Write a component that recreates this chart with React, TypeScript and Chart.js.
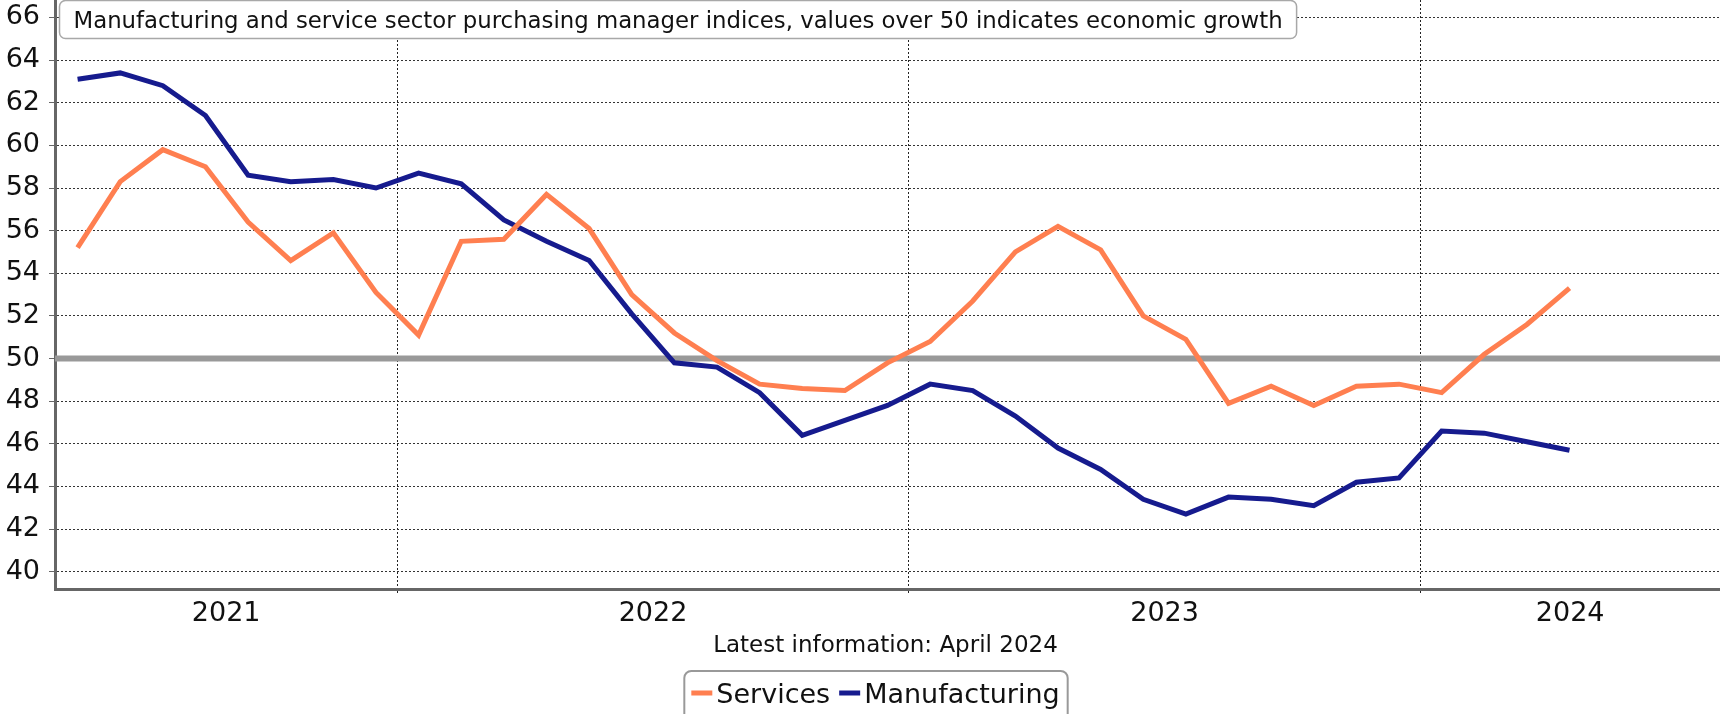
import React, { useEffect, useRef } from 'react';
import { Chart, registerables } from 'chart.js';

Chart.register(...registerables);

// ---- data ----
const months = [
  '2021-05', '2021-06', '2021-07', '2021-08', '2021-09', '2021-10', '2021-11', '2021-12',
  '2022-01', '2022-02', '2022-03', '2022-04', '2022-05', '2022-06', '2022-07', '2022-08',
  '2022-09', '2022-10', '2022-11', '2022-12', '2023-01', '2023-02', '2023-03', '2023-04',
  '2023-05', '2023-06', '2023-07', '2023-08', '2023-09', '2023-10', '2023-11', '2023-12',
  '2024-01', '2024-02', '2024-03', '2024-04',
];

const services = [
  55.2, 58.3, 59.8, 59.0, 56.4, 54.6, 55.9, 53.1,
  51.1, 55.5, 55.6, 57.7, 56.1, 53.0, 51.2, 49.9,
  48.8, 48.6, 48.5, 49.8, 50.8, 52.7, 55.0, 56.2,
  55.1, 52.0, 50.9, 47.9, 48.7, 47.8, 48.7, 48.8,
  48.4, 50.2, 51.6, 53.3,
];

const manufacturing = [
  63.1, 63.4, 62.8, 61.4, 58.6, 58.3, 58.4, 58.0,
  58.7, 58.2, 56.5, 55.5, 54.6, 52.1, 49.8, 49.6,
  48.4, 46.4, 47.1, 47.8, 48.8, 48.5, 47.3, 45.8,
  44.8, 43.4, 42.7, 43.5, 43.4, 43.1, 44.2, 44.4,
  46.6, 46.5, 46.1, 45.7,
];

const yTicks = [40, 42, 44, 46, 48, 50, 52, 54, 56, 58, 60, 62, 64, 66];
const yearLabels = ['2021', '2022', '2023', '2024'];
const seriesNames = ['Services', 'Manufacturing'];
const seriesColors = ['#FF7F50', '#161B8E'];
const referenceValue = 50;
const titleText =
  'Manufacturing and service sector purchasing manager indices, values over 50 indicates economic growth';
const footnoteText = 'Latest information: April 2024';

// axis ranges
const X_MIN = -0.53;
const X_MAX = 38.53;
const Y_MIN = 39.19;
const Y_MAX = 66.82;

const FONT = '"DejaVu Sans", Verdana, sans-serif';

// year boundaries (half a month before each January)
const boundaries = months
  .map((m, i) => (m.endsWith('-01') ? i - 0.5 : null))
  .filter((v) => v !== null) as number[];
const segEdges = [X_MIN, ...boundaries, X_MAX];
const labelCenters = yearLabels.map((_, i) => (segEdges[i] + segEdges[i + 1]) / 2);

function roundRectPath(ctx: CanvasRenderingContext2D, x: number, y: number, w: number, h: number, r: number) {
  ctx.beginPath();
  ctx.moveTo(x + r, y);
  ctx.lineTo(x + w - r, y);
  ctx.arcTo(x + w, y, x + w, y + r, r);
  ctx.lineTo(x + w, y + h - r);
  ctx.arcTo(x + w, y + h, x + w - r, y + h, r);
  ctx.lineTo(x + r, y + h);
  ctx.arcTo(x, y + h, x, y + h - r, r);
  ctx.lineTo(x, y + r);
  ctx.arcTo(x, y, x + r, y, r);
  ctx.closePath();
}

const decorPlugin = {
  id: 'decor',
  beforeDatasetsDraw(chart: any) {
    const { ctx, chartArea } = chart;
    const y = chart.scales.y.getPixelForValue(referenceValue);
    ctx.save();
    ctx.strokeStyle = '#999999';
    ctx.lineWidth = 6;
    ctx.beginPath();
    ctx.moveTo(chartArea.left, y);
    ctx.lineTo(chartArea.right, y);
    ctx.stroke();
    ctx.restore();
  },
  afterDraw(chart: any) {
    const { ctx, chartArea } = chart;
    ctx.save();
    // title box
    ctx.font = `22.8px ${FONT}`;
    const tw = ctx.measureText(titleText).width;
    const bx = 59.5;
    const by = 0.5;
    const bw = tw + 28;
    const bh = 38;
    roundRectPath(ctx, bx, by, bw, bh, 6);
    ctx.fillStyle = '#ffffff';
    ctx.fill();
    ctx.strokeStyle = '#a8a8a8';
    ctx.lineWidth = 1.5;
    ctx.stroke();
    ctx.fillStyle = '#111111';
    ctx.textAlign = 'left';
    ctx.textBaseline = 'alphabetic';
    ctx.fillText(titleText, bx + 14, 28);

    // footnote
    const cx = (chartArea.left + chartArea.right) / 2;
    ctx.font = `23px ${FONT}`;
    ctx.textAlign = 'center';
    ctx.fillText(footnoteText, cx - 2, 652);

    // legend
    ctx.font = `27px ${FONT}`;
    ctx.textAlign = 'left';
    const markerW = 21;
    const gapText = 4;
    const gapItem = 9;
    const widths = seriesNames.map((n) => ctx.measureText(n).width);
    let total = 0;
    widths.forEach((w, i) => {
      total += markerW + gapText + w + (i < widths.length - 1 ? gapItem : 0);
    });
    const left = cx - 12 - total / 2;
    roundRectPath(ctx, left - 7, 671, total + 15, 60, 7);
    ctx.strokeStyle = '#999999';
    ctx.lineWidth = 2;
    ctx.stroke();
    let x = left;
    seriesNames.forEach((n, i) => {
      ctx.fillStyle = seriesColors[i];
      ctx.fillRect(x, 690.5, markerW, 5);
      ctx.fillStyle = '#111111';
      ctx.fillText(n, x + markerW + gapText, 703);
      x += markerW + gapText + widths[i] + gapItem;
    });
    ctx.restore();
  },
};

export default function App() {
  const canvasRef = useRef<HTMLCanvasElement | null>(null);

  useEffect(() => {
    document.body.style.margin = '0';
    const canvas = canvasRef.current;
    if (!canvas) return;

    const chart = new Chart(canvas, {
      type: 'line',
      data: {
        datasets: [
          {
            label: seriesNames[0],
            data: services.map((v, i) => ({ x: i, y: v })),
            borderColor: seriesColors[0],
            backgroundColor: seriesColors[0],
            borderWidth: 5,
            pointRadius: 0,
            tension: 0,
            fill: false,
          },
          {
            label: seriesNames[1],
            data: manufacturing.map((v, i) => ({ x: i, y: v })),
            borderColor: seriesColors[1],
            backgroundColor: seriesColors[1],
            borderWidth: 5,
            pointRadius: 0,
            tension: 0,
            fill: false,
          },
        ],
      },
      options: {
        responsive: false,
        maintainAspectRatio: false,
        devicePixelRatio: 1,
        animation: false,
        layout: { padding: 0 },
        plugins: {
          legend: { display: false },
          title: { display: false },
          tooltip: { enabled: false },
        },
        scales: {
          x: {
            type: 'linear',
            position: 'bottom',
            min: X_MIN,
            max: X_MAX,
            afterBuildTicks: (scale: any) => {
              const vals = [...boundaries, ...labelCenters].sort((a, b) => a - b);
              scale.ticks = vals.map((v) => ({ value: v }));
            },
            afterFit: (scale: any) => {
              scale.height = 714 - 589;
              scale.paddingLeft = 0;
              scale.paddingRight = 0;
            },
            ticks: {
              autoSkip: false,
              maxRotation: 0,
              minRotation: 0,
              padding: 5,
              color: '#111111',
              font: { family: FONT, size: 27 },
              callback: (value: any) => {
                const idx = labelCenters.findIndex((c) => Math.abs(c - value) < 1e-6);
                return idx >= 0 ? yearLabels[idx] : '';
              },
            },
            grid: {
              color: (ctx: any) =>
                ctx.tick && boundaries.some((b) => Math.abs(b - ctx.tick.value) < 1e-6)
                  ? '#222222'
                  : 'rgba(0,0,0,0)',
              lineWidth: 1,
              tickLength: 4,
              tickBorderDash: [],
            },
            border: { display: true, color: '#666666', width: 3, dash: [2, 2] },
          },
          y: {
            type: 'linear',
            position: 'left',
            min: Y_MIN,
            max: Y_MAX,
            afterBuildTicks: (scale: any) => {
              scale.ticks = yTicks.map((v) => ({ value: v }));
            },
            afterFit: (scale: any) => {
              scale.width = 55;
              scale.paddingTop = 0;
              scale.paddingBottom = 0;
            },
            ticks: {
              padding: 9,
              color: '#111111',
              font: { family: FONT, size: 27 },
              callback: (value: any) => String(value),
            },
            grid: {
              color: '#333333',
              lineWidth: 1,
              tickLength: 6,
              tickColor: '#666666',
              tickBorderDash: [],
            },
            border: { display: true, color: '#666666', width: 3, dash: [2, 2] },
          },
        },
      },
      plugins: [decorPlugin],
    } as any);

    return () => {
      chart.destroy();
    };
  }, []);

  return (
    <div style={{ position: 'absolute', left: 0, top: 0, width: 1720, height: 714, background: '#ffffff' }}>
      <canvas ref={canvasRef} width={1720} height={714} style={{ display: 'block' }} />
    </div>
  );
}
